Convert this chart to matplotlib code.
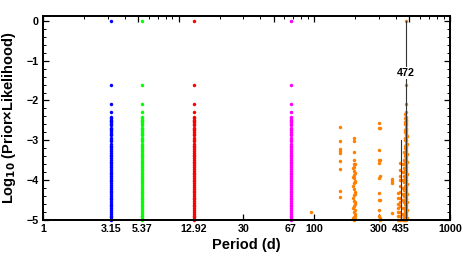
import matplotlib
matplotlib.use("Agg")
import matplotlib.pyplot as plt
from matplotlib.ticker import FixedLocator, NullFormatter

# log10 posterior values shared by every candidate period column
column_logp = [0.0, -1.61, -2.08, -2.30, -2.42, -2.45, -2.48, -2.52, -2.55, -2.58,
               -2.62, -2.68, -2.71, -2.75, -2.79, -2.83, -2.86, -2.94, -2.98, -3.02,
               -3.08, -3.13, -3.18, -3.22, -3.27, -3.31, -3.36, -3.40, -3.45, -3.49,
               -3.54, -3.58, -3.63, -3.67, -3.72, -3.76, -3.81, -3.85, -3.90, -3.94,
               -3.99, -4.03, -4.08, -4.12, -4.17, -4.21, -4.26, -4.30, -4.35, -4.39,
               -4.44, -4.48, -4.53, -4.57, -4.62, -4.66, -4.71, -4.75, -4.80, -4.84,
               -4.89, -4.93, -4.97, -5.00]

col_periods = [3.15, 5.37, 12.92, 67]
col_colors = ["#0000ff", "#00ff00", "#ff0000", "#ff00ff"]

# orange (outer planet) samples
orange_main_period = 472
orange_periods = ([95]
                  + [155] * 9
                  + [195] * 3 + [197] * 14 + [192] * 6 + [201] * 6 + [199] * 6
                  + [299] * 10 + [306] * 6
                  + [373] * 4
                  + [411] * 7
                  + [427] * 12
                  + [447] * 9
                  + [465] * 14 + [478] * 10 + [461] * 12 + [468] * 14)
orange_logp = ([-4.79]
               + [-2.66, -3.02, -3.22, -3.28, -3.33, -3.53, -3.72, -4.27, -4.42]
               + [-2.95, -3.02, -3.30]
               + [-3.49, -3.59, -3.66, -3.78, -3.87, -3.95, -4.08, -4.22, -4.38,
                  -4.52, -4.65, -4.80, -4.93, -5.00]
               + [-3.70, -3.92, -4.15, -4.45, -4.70, -4.95]
               + [-3.82, -4.02, -4.30, -4.60, -4.85, -4.98]
               + [-3.60, -4.05, -4.35, -4.55, -4.75, -4.90]
               + [-2.57, -2.69, -3.24, -3.49, -3.57, -3.94, -4.31, -4.49, -4.74, -4.91]
               + [-2.70, -3.50, -3.90, -4.50, -4.95, -5.00]
               + [-3.97, -4.03, -4.07, -4.82]
               + [-4.32, -4.45, -4.60, -4.70, -4.80, -4.90, -5.00]
               + [-3.57, -3.75, -3.90, -4.00, -4.15, -4.30, -4.45, -4.55, -4.65,
                  -4.80, -4.90, -5.00]
               + [-3.60, -3.80, -4.00, -4.20, -4.35, -4.50, -4.70, -4.85, -5.00]
               + [-2.45, -2.60, -2.80, -3.00, -3.20, -3.40, -3.60, -3.80, -4.00,
                  -4.20, -4.40, -4.60, -4.80, -5.00]
               + [-2.90, -3.10, -3.35, -3.55, -3.85, -4.10, -4.35, -4.55, -4.75, -4.95]
               + [-3.30, -3.50, -3.70, -3.90, -4.05, -4.25, -4.40, -4.55, -4.70,
                  -4.85, -4.93, -5.00]
               + [-2.35, -2.55, -2.75, -2.95, -3.15, -3.35, -3.55, -3.75, -3.95,
                  -4.15, -4.35, -4.55, -4.75, -4.95])

xtick_vals = [1, 3.15, 5.37, 12.92, 30, 67, 100, 300, 435, 1000]
xtick_labels = ["1", "3.15", "5.37", "12.92", "30", "67", "100", "300", "435", "1000"]
peak_label = 472
peak2 = 435

plt.rcParams["font.family"] = ["Liberation Sans", "DejaVu Sans"]
plt.rcParams["font.weight"] = "bold"

fig = plt.figure(figsize=(4.63, 2.60), dpi=100)
ax = fig.add_axes([0.0929, 0.1538, 0.8791, 0.7846])

ms = 2.5
for p, c in zip(col_periods, col_colors):
    ax.plot([p] * len(column_logp), column_logp, "o", ms=ms, color=c, mec="none", clip_on=False)
ax.plot([orange_main_period] * len(column_logp), column_logp, "o", ms=ms,
        color="#ff8000", mec="none", clip_on=False)
ax.plot(orange_periods, orange_logp, "o", ms=ms, color="#ff8000", mec="none", clip_on=False)

ax.plot([peak_label, peak_label], [0, -5], color="#333333", lw=0.8, zorder=5)
ax.plot([peak2, peak2], [-3.0, -5], color="#333333", lw=0.8, zorder=5)
ax.text(peak_label, -1.31, "472", ha="center", va="center", fontsize=7.7,
        fontweight="bold", zorder=6,
        bbox=dict(facecolor="white", edgecolor="none", pad=1.0))

ax.set_xscale("log")
ax.set_xlim(1, 1000)
ax.set_ylim(-5, 0.12)

ax.xaxis.set_major_locator(FixedLocator(xtick_vals))
ax.set_xticklabels(xtick_labels)
ax.xaxis.set_minor_locator(FixedLocator([]))
ax.xaxis.set_minor_formatter(NullFormatter())
ax.yaxis.set_major_locator(FixedLocator([-5, -4, -3, -2, -1, 0]))
ax.set_yticklabels(["\u22125", "\u22124", "\u22123", "\u22122", "\u22121", "0"])
ax.yaxis.set_minor_locator(FixedLocator([v / 5 for v in range(-25, 1)]))

ax.tick_params(which="major", direction="in", length=4, width=0.9, labelsize=7.7, pad=3)
ax.tick_params(which="minor", direction="in", length=2, width=0.7)

# top axis with standard log ticks
top = ax.twiny()
top.set_xscale("log")
top.set_xlim(1, 1000)
top.xaxis.set_major_locator(FixedLocator([1, 5, 10, 50, 100, 500, 1000]))
top.xaxis.set_minor_locator(FixedLocator([2, 3, 4, 6, 7, 8, 9, 20, 30, 40, 60, 70, 80, 90,
                                          200, 300, 400, 600, 700, 800, 900]))
top.xaxis.set_major_formatter(NullFormatter())
top.xaxis.set_minor_formatter(NullFormatter())
top.tick_params(which="major", direction="in", length=4, width=0.9)
top.tick_params(which="minor", direction="in", length=2, width=0.7)

right = ax.twinx()
right.set_ylim(-5, 0.12)
right.yaxis.set_major_locator(FixedLocator([-5, -4, -3, -2, -1, 0]))
right.yaxis.set_minor_locator(FixedLocator([v / 5 for v in range(-25, 1)]))
right.yaxis.set_major_formatter(NullFormatter())
right.tick_params(which="major", direction="in", length=4, width=0.9)
right.tick_params(which="minor", direction="in", length=2, width=0.7)

for a in (ax, top, right):
    for s in a.spines.values():
        s.set_linewidth(1.1)

ax.set_xlabel("Period (d)", fontsize=10.5, fontweight="bold", labelpad=3)
ax.set_ylabel("Log$_{\\mathbf{10}}$ (Prior\u00d7Likelihood)", fontsize=10.5,
              fontweight="bold", labelpad=6)

fig.savefig("out.png", dpi=100)
